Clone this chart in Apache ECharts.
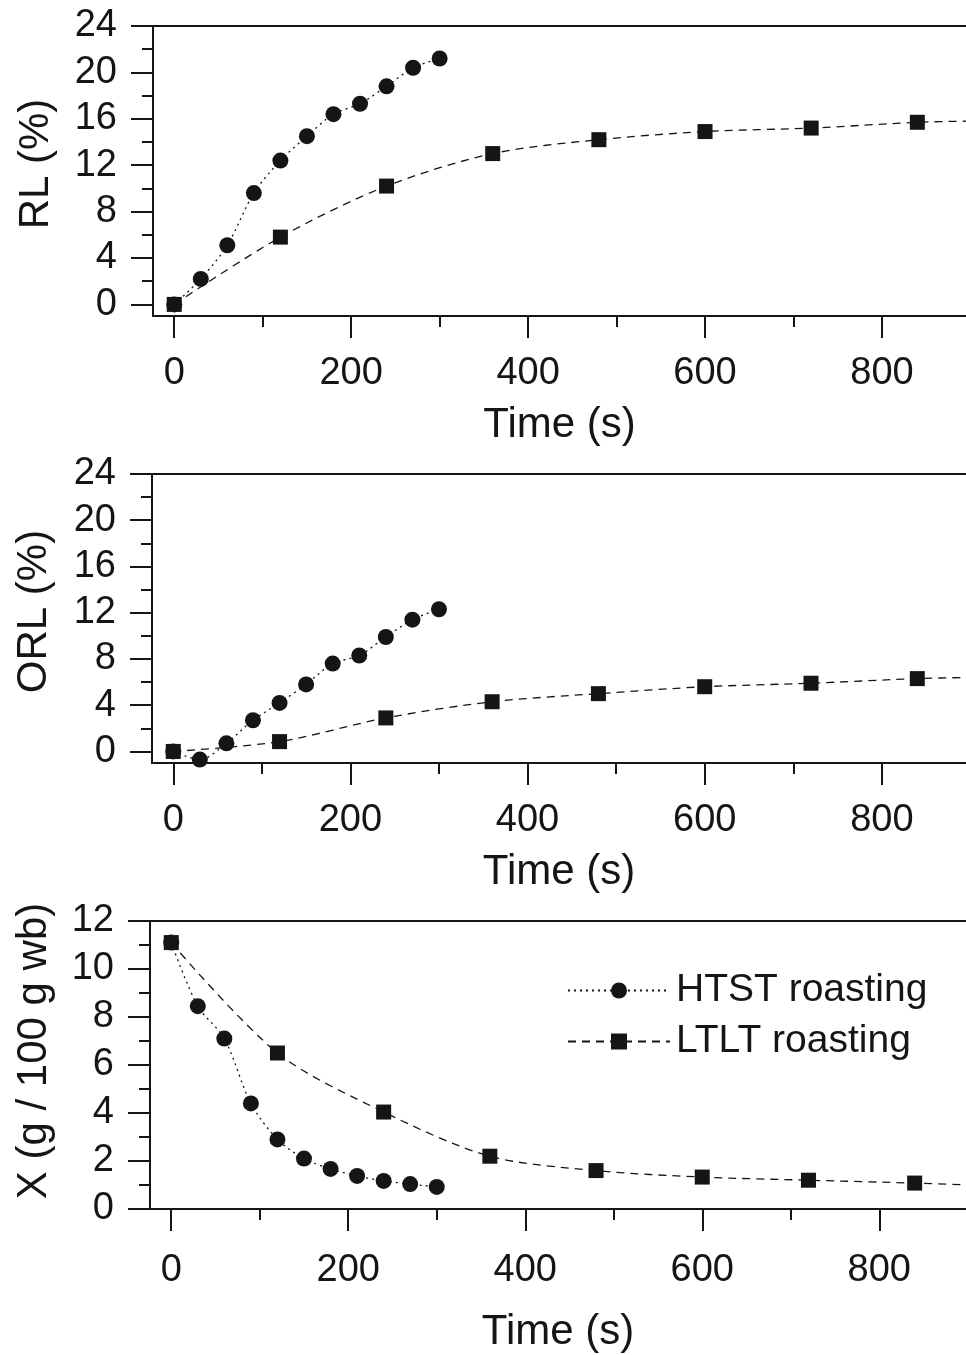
<!DOCTYPE html>
<html><head><meta charset="utf-8">
<script src="https://cdn.jsdelivr.net/npm/echarts@6/dist/echarts.min.js"></script>
<style>html,body{margin:0;padding:0;background:#fff}#c{width:966px;height:1355px}</style>
</head><body><div id="c"></div>
<script>
// ---- data ----
const htstTime = [0, 30, 60, 90, 120, 150, 180, 210, 240, 270, 300];
const ltltTime = [0, 120, 240, 360, 480, 600, 720, 840];
const rlHTST  = [0, 2.2, 5.1, 9.6, 12.4, 14.5, 16.4, 17.3, 18.8, 20.4, 21.2];
const rlLTLT  = [0, 5.8, 10.2, 13.0, 14.2, 14.9, 15.2, 15.7];
const orlHTST = [0, -0.7, 0.7, 2.7, 4.2, 5.8, 7.6, 8.3, 9.9, 11.4, 12.3];
const orlLTLT = [0, 0.85, 2.9, 4.3, 5.0, 5.6, 5.9, 6.3];
const xHTST   = [11.1, 8.45, 7.1, 4.4, 2.9, 2.1, 1.67, 1.38, 1.17, 1.04, 0.92];
const xLTLT   = [11.1, 6.5, 4.04, 2.2, 1.6, 1.33, 1.2, 1.08];
// LTLT fitted curve continues past the last sample to the panel edge
const curveEndTime = 900;
const rlLTLTEnd = 15.8, orlLTLTEnd = 6.4, xLTLTEnd = 1.0;
// ---- ticks ----
const timeTicks = [0, 200, 400, 600, 800];
const timeMinorTicks = [100, 300, 500, 700];
const pctTicks = [0, 4, 8, 12, 16, 20, 24];
const pctMinorTicks = [2, 6, 10, 14, 18, 22];
const moistTicks = [0, 2, 4, 6, 8, 10, 12];
const moistMinorTicks = [1, 3, 5, 7, 9, 11];
const seriesNames = ['HTST roasting', 'LTLT roasting'];
const yNames = ['RL (%)', 'ORL (%)', 'X (g / 100 g wb)'];
const xName = 'Time (s)';

const FONT = '"Liberation Sans", Arial, Helvetica, sans-serif';
const INK = '#151515';

const panels = [
  {left:153, top:26, height:290, ymin:-1, ymax:24, xmax:895, yt:pctTicks, ym:pctMinorTicks, yName:yNames[0], h:rlHTST, l:rlLTLT, lEnd:rlLTLTEnd, nameGap:88, labMargin:39, yNameGap:96, yNameShift:14},
  {left:152, top:474, height:289, ymin:-1, ymax:24, xmax:895, yt:pctTicks, ym:pctMinorTicks, yName:yNames[1], h:orlHTST, l:orlLTLT, lEnd:orlLTLTEnd, nameGap:88, labMargin:39, yNameGap:97, yNameShift:14},
  {left:150, top:921, height:288, ymin:0, ymax:12, xmax:898, yt:moistTicks, ym:moistMinorTicks, yName:yNames[2], h:xHTST, l:xLTLT, lEnd:xLTLTEnd, nameGap:102, labMargin:43, yNameGap:95, yNameShift:28}
];

const grid = [], xAxis = [], yAxis = [], series = [];
const axisLineStyle = {color: INK, width: 2};
panels.forEach((p, i) => {
  grid.push({left: p.left, right: 0, top: p.top, height: p.height});
  xAxis.push({
    gridIndex: i, type: 'value', position: 'bottom', min: -24, max: p.xmax,
    axisLine: {show: true, onZero: false, lineStyle: axisLineStyle},
    axisTick: {show: true, customValues: timeTicks, length: 22, lineStyle: axisLineStyle},
    axisLabel: {customValues: timeTicks, fontSize: 38, color: INK, fontFamily: FONT, margin: p.labMargin},
    splitLine: {show: false},
    name: xName, nameLocation: 'middle', nameGap: p.nameGap,
    nameTextStyle: {fontSize: 42, color: INK, fontFamily: FONT}
  });
  xAxis.push({
    gridIndex: i, type: 'value', position: 'bottom', min: -24, max: p.xmax,
    axisLine: {show: false, onZero: false},
    axisTick: {show: true, customValues: timeMinorTicks, length: 11, lineStyle: axisLineStyle},
    axisLabel: {show: false}, splitLine: {show: false}
  });
  xAxis.push({
    gridIndex: i, type: 'value', position: 'top', min: -24, max: p.xmax,
    axisLine: {show: true, onZero: false, lineStyle: axisLineStyle},
    axisTick: {show: false}, axisLabel: {show: false}, splitLine: {show: false}
  });
  yAxis.push({
    gridIndex: i, type: 'value', position: 'left', min: p.ymin, max: p.ymax,
    axisLine: {show: true, onZero: false, lineStyle: axisLineStyle},
    axisTick: {show: true, customValues: p.yt, length: 22, lineStyle: axisLineStyle},
    axisLabel: {customValues: p.yt, fontSize: 38, color: INK, fontFamily: FONT, margin: 36},
    splitLine: {show: false},
    name: p.yName, nameLocation: 'middle', nameGap: p.yNameGap,
    nameTextStyle: {fontSize: 42, color: INK, fontFamily: FONT, padding: [0, 0, 0, p.yNameShift]}
  });
  yAxis.push({
    gridIndex: i, type: 'value', position: 'left', min: p.ymin, max: p.ymax,
    axisLine: {show: false, onZero: false},
    axisTick: {show: true, customValues: p.ym, length: 11, lineStyle: axisLineStyle},
    axisLabel: {show: false}, splitLine: {show: false}
  });
  series.push({
    name: seriesNames[0], type: 'line', xAxisIndex: 3 * i, yAxisIndex: 2 * i,
    data: htstTime.map((t, k) => [t, p.h[k]]),
    smooth: 0.3, symbol: 'circle', symbolSize: 16,
    itemStyle: {color: INK},
    lineStyle: {color: INK, width: 1.3, type: [2, 4]},
    z: 2
  });
  const ld = ltltTime.map((t, k) => [t, p.l[k]]);
  ld.push({value: [curveEndTime, p.lEnd], symbol: 'none'});
  series.push({
    name: seriesNames[1], type: 'line', xAxisIndex: 3 * i, yAxisIndex: 2 * i,
    data: ld,
    smooth: 0.3, symbol: 'rect', symbolSize: 15,
    itemStyle: {color: INK},
    lineStyle: {color: INK, width: 1.3, type: [8, 6]},
    z: 3
  });
});

const chart = echarts.init(document.getElementById('c'), null, {renderer: 'canvas'});
chart.setOption({
  animation: false,
  backgroundColor: '#fff',
  grid, xAxis, yAxis, series,
  legend: {
    orient: 'vertical', left: 562, top: 966,
    data: seriesNames,
    itemWidth: 102, itemHeight: 20, itemGap: 12,
    textStyle: {fontSize: 39, color: INK, fontFamily: FONT, padding: [0, 0, 0, 1]},
    selectedMode: false
  }
});
</script></body></html>
